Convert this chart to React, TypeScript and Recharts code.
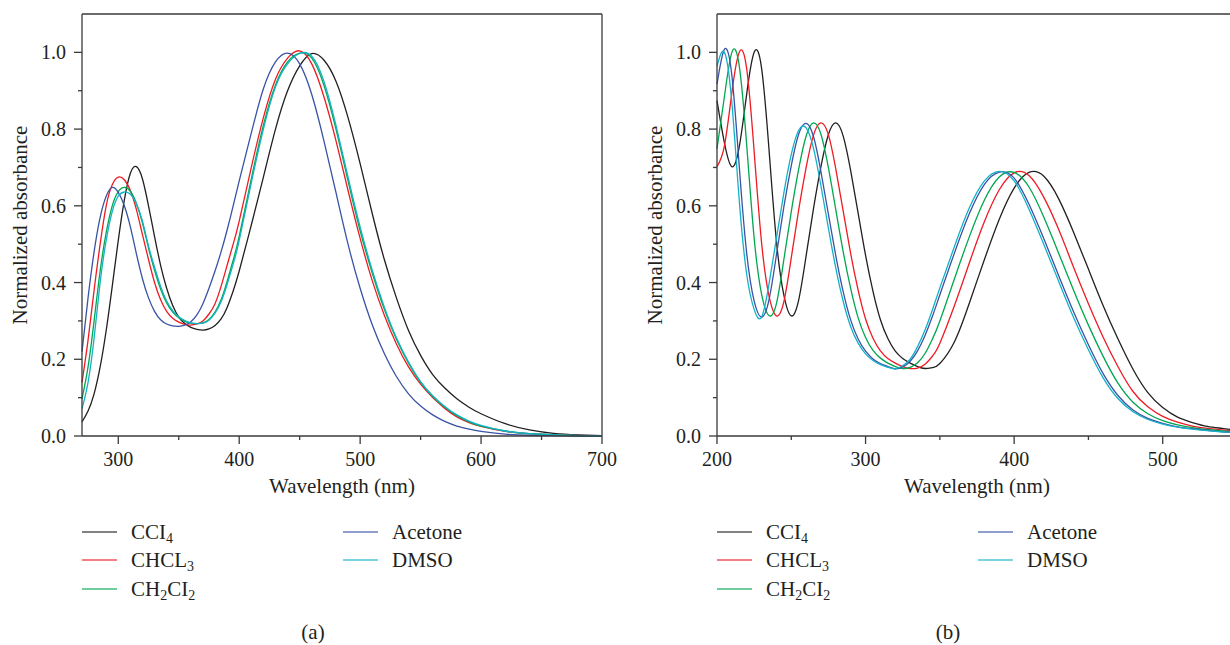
import React from 'react';
import { LineChart, Line, XAxis, YAxis, ReferenceLine, Label } from 'recharts';

// ---- panel (a) ----
const wlA = [270, 275, 280, 285, 290, 295, 300, 305, 310, 315, 320, 325, 330, 335, 340, 345, 350, 355, 360, 365, 370, 375, 380, 385, 390, 395, 400,
  410, 420, 430, 440, 450, 460, 470, 480, 490, 500, 510, 520, 530, 540, 550, 560, 570, 580, 590, 600, 620, 640, 660, 680, 700];
const ccl4A = [0.037, 0.065, 0.11, 0.18, 0.275, 0.39, 0.51, 0.615, 0.685, 0.702, 0.67, 0.6, 0.52, 0.445, 0.385, 0.34, 0.31, 0.293, 0.283, 0.278, 0.276, 0.279, 0.288, 0.305, 0.335, 0.378, 0.43,
  0.55, 0.675, 0.8, 0.9, 0.965, 0.997, 0.98, 0.925, 0.83, 0.71, 0.58, 0.46, 0.36, 0.275, 0.21, 0.16, 0.125, 0.097, 0.075, 0.058, 0.032, 0.016, 0.007, 0.003, 0.001];
const chcl3A = [0.14, 0.25, 0.38, 0.5, 0.6, 0.655, 0.675, 0.668, 0.64, 0.59, 0.525, 0.46, 0.4, 0.355, 0.325, 0.307, 0.297, 0.291, 0.289, 0.292, 0.3, 0.318, 0.345, 0.39, 0.445, 0.5, 0.56,
  0.7, 0.83, 0.93, 0.985, 1.004, 0.97, 0.885, 0.77, 0.64, 0.515, 0.405, 0.315, 0.24, 0.18, 0.135, 0.1, 0.072, 0.05, 0.035, 0.025, 0.012, 0.006, 0.003, 0.001, 0];
const ch2cl2A = [0.097, 0.18, 0.3, 0.43, 0.53, 0.6, 0.637, 0.648, 0.638, 0.606, 0.555, 0.49, 0.432, 0.383, 0.347, 0.323, 0.308, 0.299, 0.294, 0.293, 0.295, 0.304, 0.323, 0.355, 0.403, 0.458, 0.52,
  0.67, 0.81, 0.915, 0.975, 0.998, 0.985, 0.915, 0.8, 0.665, 0.535, 0.425, 0.33, 0.252, 0.19, 0.14, 0.103, 0.075, 0.053, 0.037, 0.026, 0.013, 0.006, 0.003, 0.001, 0];
const acetoneA = [0.22, 0.36, 0.48, 0.57, 0.625, 0.648, 0.635, 0.6, 0.545, 0.475, 0.41, 0.36, 0.325, 0.303, 0.292, 0.287, 0.286, 0.289, 0.298, 0.316, 0.345, 0.385, 0.43, 0.48, 0.537, 0.6, 0.665,
  0.79, 0.905, 0.975, 0.998, 0.97, 0.89, 0.77, 0.635, 0.5, 0.385, 0.29, 0.215, 0.155, 0.11, 0.078, 0.055, 0.038, 0.026, 0.018, 0.012, 0.005, 0.002, 0.001, 0, 0];
const dmsoA = [0.071, 0.14, 0.255, 0.4, 0.51, 0.585, 0.625, 0.636, 0.63, 0.605, 0.56, 0.495, 0.44, 0.39, 0.352, 0.327, 0.311, 0.301, 0.295, 0.293, 0.294, 0.302, 0.32, 0.35, 0.395, 0.448, 0.51,
  0.66, 0.8, 0.91, 0.97, 0.997, 0.99, 0.925, 0.81, 0.675, 0.545, 0.432, 0.336, 0.256, 0.193, 0.142, 0.105, 0.077, 0.055, 0.039, 0.028, 0.013, 0.006, 0.003, 0.001, 0];

// ---- panel (b) ----
const wlB = [200, 205, 210, 215, 220, 225, 230, 235, 240, 245, 250, 255, 260, 265, 270, 275, 280, 285, 290, 295, 300, 305, 310, 315, 320, 325, 330, 335, 340, 345, 350,
  360, 370, 380, 390, 400, 410, 420, 430, 440, 450, 460, 470, 480, 490, 500, 510, 520, 530, 540, 550];
const ccl4B = [0.874, 0.764, 0.702, 0.754, 0.892, 1.0, 0.959, 0.747, 0.508, 0.367, 0.313, 0.355, 0.47, 0.594, 0.703, 0.786, 0.816, 0.781, 0.691, 0.581, 0.471, 0.377, 0.303, 0.254, 0.221, 0.202, 0.19, 0.181, 0.176, 0.178, 0.189,
  0.247, 0.348, 0.46, 0.565, 0.646, 0.687, 0.677, 0.618, 0.531, 0.435, 0.339, 0.252, 0.174, 0.113, 0.074, 0.049, 0.035, 0.025, 0.02, 0.015];
const chcl3B = [0.702, 0.756, 0.895, 1.0, 0.957, 0.742, 0.504, 0.365, 0.313, 0.35, 0.465, 0.59, 0.7, 0.785, 0.816, 0.785, 0.695, 0.585, 0.475, 0.38, 0.305, 0.255, 0.222, 0.202, 0.19, 0.181, 0.176, 0.177, 0.187, 0.208, 0.242,
  0.342, 0.453, 0.559, 0.642, 0.686, 0.679, 0.622, 0.538, 0.44, 0.345, 0.257, 0.18, 0.116, 0.076, 0.051, 0.036, 0.026, 0.02, 0.016, 0.012];
const ch2cl2B = [0.749, 0.885, 1.0, 0.964, 0.758, 0.516, 0.37, 0.314, 0.345, 0.46, 0.585, 0.696, 0.782, 0.816, 0.786, 0.699, 0.589, 0.479, 0.384, 0.308, 0.257, 0.223, 0.203, 0.19, 0.181, 0.176, 0.179, 0.191, 0.215, 0.253, 0.3,
  0.412, 0.521, 0.615, 0.675, 0.687, 0.649, 0.57, 0.476, 0.38, 0.289, 0.207, 0.137, 0.088, 0.058, 0.04, 0.029, 0.022, 0.017, 0.013, 0.011];
const acetoneB = [0.917, 1.008, 0.94, 0.702, 0.476, 0.352, 0.31, 0.355, 0.472, 0.597, 0.705, 0.787, 0.815, 0.78, 0.688, 0.578, 0.469, 0.375, 0.302, 0.253, 0.221, 0.201, 0.189, 0.181, 0.175, 0.18, 0.195, 0.222, 0.262, 0.312, 0.368,
  0.479, 0.581, 0.656, 0.688, 0.672, 0.604, 0.514, 0.418, 0.324, 0.238, 0.162, 0.105, 0.068, 0.046, 0.033, 0.024, 0.019, 0.015, 0.011, 0.009];
const dmsoB = [0.964, 1.0, 0.869, 0.613, 0.421, 0.33, 0.31, 0.396, 0.515, 0.634, 0.734, 0.797, 0.803, 0.749, 0.651, 0.541, 0.437, 0.35, 0.285, 0.242, 0.214, 0.197, 0.186, 0.179, 0.175, 0.183, 0.2, 0.233, 0.276, 0.329, 0.386,
  0.496, 0.596, 0.665, 0.69, 0.665, 0.591, 0.499, 0.403, 0.309, 0.225, 0.151, 0.097, 0.063, 0.043, 0.031, 0.023, 0.018, 0.014, 0.011, 0.009];

const yTicks = [0, 0.1, 0.2, 0.3, 0.4, 0.5, 0.6, 0.7, 0.8, 0.9, 1.0];
const xTicksA = [300, 350, 400, 450, 500, 550, 600, 650, 700];
const xTicksB = [200, 250, 300, 350, 400, 450, 500, 550];

const series = [
  { key: 'ccl4', color: '#231f20', name: 'CCI', sub: '4', sub2: '' },
  { key: 'chcl3', color: '#ed1c24', name: 'CHCL', sub: '3', sub2: '' },
  { key: 'ch2cl2', color: '#00a651', name: 'CH', sub: '2', sub2: 'CI' },
  { key: 'acetone', color: '#3953a4', name: 'Acetone', sub: '', sub2: '' },
  { key: 'dmso', color: '#13b1c8', name: 'DMSO', sub: '', sub2: '' },
];

const dataA = wlA.map((wl, i) => ({ wl, ccl4: ccl4A[i], chcl3: chcl3A[i], ch2cl2: ch2cl2A[i], acetone: acetoneA[i], dmso: dmsoA[i] }));
const dataB = wlB.map((wl, i) => ({ wl, ccl4: ccl4B[i], chcl3: chcl3B[i], ch2cl2: ch2cl2B[i], acetone: acetoneB[i], dmso: dmsoB[i] }));

const axisColor = '#3a3a3a';
const textColor = '#231f20';
const font = "'Liberation Serif', 'Times New Roman', serif";
const txt = { fontFamily: font, fill: textColor };

// force the serif face on every svg text, whatever the page css says
const css = `#spectra svg text, #spectra svg tspan { font-family: 'Liberation Serif', 'Times New Roman', serif !important; }`;

const YTick = (props: any) => {
  const { x, y, payload } = props;
  const v = payload.value;
  const major = Math.round(v * 10) % 2 === 0;
  return (
    <g>
      <line x1={x} y1={y} x2={x - (major ? 8 : 4)} y2={y} stroke={axisColor} strokeWidth={1.3} />
      {major && (
        <text x={x - 16} y={y} textAnchor="end" dominantBaseline="central" style={{ ...txt, fontSize: 20 }}>
          {v.toFixed(1)}
        </text>
      )}
    </g>
  );
};

const XTick = (props: any) => {
  const { x, y, payload } = props;
  const v = payload.value;
  const major = v % 100 === 0;
  return (
    <g>
      <line x1={x} y1={y} x2={x} y2={y + (major ? 8 : 4)} stroke={axisColor} strokeWidth={1.3} />
      {major && (
        <text x={x} y={y + 23} textAnchor="middle" dominantBaseline="central" style={{ ...txt, fontSize: 20 }}>
          {v}
        </text>
      )}
    </g>
  );
};

const YTitle = (props: any) => {
  const vb = props.viewBox;
  const cx = vb.x + 8;
  const cy = vb.y + vb.height / 2;
  return (
    <text x={cx} y={cy} transform={`rotate(-90 ${cx} ${cy})`} textAnchor="middle" dominantBaseline="central" style={{ ...txt, fontSize: 21 }}>
      Normalized absorbance
    </text>
  );
};

const XTitle = (props: any) => {
  const vb = props.viewBox;
  return (
    <text x={vb.x + vb.width / 2} y={vb.y + vb.height} textAnchor="middle" style={{ ...txt, fontSize: 21 }}>
      Wavelength (nm)
    </text>
  );
};

function Panel({ data, domain, ticks }: { data: any[]; domain: number[]; ticks: number[] }) {
  return (
    <LineChart width={640} height={500} data={data} margin={{ top: 14, right: 38, left: 12, bottom: 7 }}>
      <XAxis
        type="number"
        dataKey="wl"
        domain={domain}
        ticks={ticks}
        interval={0}
        height={57}
        tickSize={0}
        tickMargin={0}
        tickLine={false}
        tick={<XTick />}
        axisLine={{ stroke: axisColor, strokeWidth: 1.3 }}
      >
        <Label content={<XTitle />} />
      </XAxis>
      <YAxis
        type="number"
        domain={[0, 1.1]}
        ticks={yTicks}
        interval={0}
        width={70}
        tickSize={0}
        tickMargin={0}
        tickLine={false}
        tick={<YTick />}
        axisLine={{ stroke: axisColor, strokeWidth: 1.3 }}
      >
        <Label content={<YTitle />} />
      </YAxis>
      <ReferenceLine y={1.1} stroke={axisColor} strokeWidth={1.3} />
      <ReferenceLine x={domain[1]} stroke={axisColor} strokeWidth={1.3} />
      {series.map((s) => (
        <Line key={s.key} type="natural" dataKey={s.key} stroke={s.color} strokeWidth={1.3} dot={false} isAnimationActive={false} />
      ))}
    </LineChart>
  );
}

function LegendBlock({ left, caption }: { left: number; caption: string }) {
  const rows = [
    { s: series[0], x: 0, y: 532 },
    { s: series[1], x: 0, y: 560 },
    { s: series[2], x: 0, y: 589 },
    { s: series[3], x: 261, y: 532 },
    { s: series[4], x: 261, y: 560 },
  ];
  return (
    <g style={txt}>
      {rows.map(({ s, x, y }) => (
        <g key={s.key}>
          <line x1={left + x} y1={y} x2={left + x + 35} y2={y} stroke={s.color} strokeWidth={1.6} strokeOpacity={0.75} />
          <text x={left + x + 49} y={y + 7} style={{ ...txt, fontSize: 21 }}>
            {s.name}
            {s.sub && <tspan dy={4} style={{ fontSize: 14 }}>{s.sub}</tspan>}
            {s.sub2 && <tspan dy={-4}>{s.sub2}</tspan>}
            {s.sub2 && <tspan dy={4} style={{ fontSize: 14 }}>{s.sub}</tspan>}
          </text>
        </g>
      ))}
      <text x={left + 231} y={639} textAnchor="middle" style={{ ...txt, fontSize: 21 }}>{caption}</text>
    </g>
  );
}

export default function App() {
  return (
    <div id="spectra" style={{ position: 'fixed', left: 0, top: 0, width: 1230, height: 645, overflow: 'hidden', background: '#fff', fontFamily: font }}>
      <style>{css}</style>
      <div style={{ position: 'absolute', left: 0, top: 0 }}>
        <Panel data={dataA} domain={[270, 700]} ticks={xTicksA} />
      </div>
      <div style={{ position: 'absolute', left: 635, top: 0 }}>
        <Panel data={dataB} domain={[200, 550]} ticks={xTicksB} />
      </div>
      <svg width={1230} height={645} style={{ position: 'absolute', left: 0, top: 0, pointerEvents: 'none' }}>
        <LegendBlock left={82} caption="(a)" />
        <LegendBlock left={717} caption="(b)" />
      </svg>
    </div>
  );
}
